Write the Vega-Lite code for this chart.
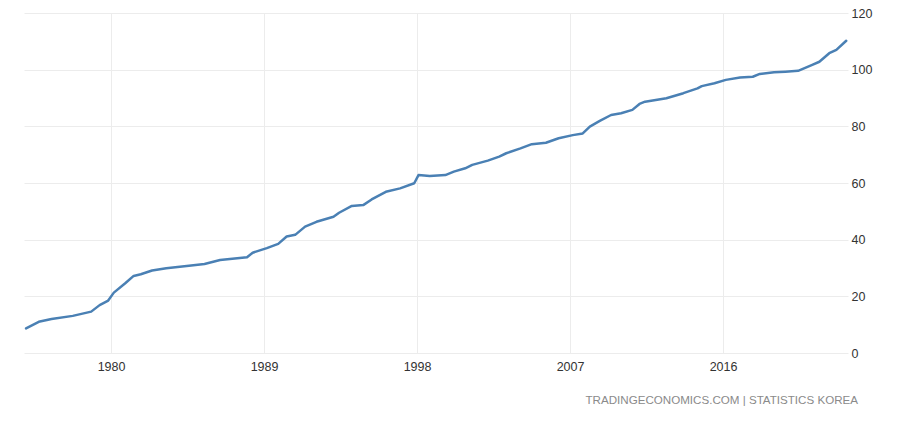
{
  "$schema": "https://vega.github.io/schema/vega-lite/v6.json",
  "width": 824,
  "height": 340,
  "autosize": "none",
  "padding": {"left": 24, "top": 13, "right": 52, "bottom": 68},
  "background": "white",
  "config": {
    "view": {"stroke": null},
    "font": "Liberation Sans"
  },
  "title": {
    "text": "TRADINGECONOMICS.COM | STATISTICS KOREA",
    "orient": "bottom",
    "anchor": "end",
    "frame": "group",
    "fontSize": 11.6,
    "fontWeight": "normal",
    "color": "#8a8a8a",
    "offset": 22,
    "dx": 10
  },
  "data": {
    "values": [
      {"date": "1975-01-01", "value": 8.7},
      {"date": "1975-10-01", "value": 11.0},
      {"date": "1976-07-01", "value": 12.0},
      {"date": "1977-10-01", "value": 13.1},
      {"date": "1978-11-01", "value": 14.6},
      {"date": "1979-05-01", "value": 16.9},
      {"date": "1979-11-01", "value": 18.5},
      {"date": "1980-03-01", "value": 21.3},
      {"date": "1980-11-01", "value": 24.6},
      {"date": "1981-05-01", "value": 27.2},
      {"date": "1981-10-01", "value": 27.8},
      {"date": "1982-06-01", "value": 29.1},
      {"date": "1983-04-01", "value": 29.9},
      {"date": "1984-08-01", "value": 30.8},
      {"date": "1985-07-01", "value": 31.4},
      {"date": "1986-06-01", "value": 32.8},
      {"date": "1988-01-01", "value": 33.8},
      {"date": "1988-05-01", "value": 35.4},
      {"date": "1989-03-01", "value": 37.0},
      {"date": "1989-11-01", "value": 38.5},
      {"date": "1990-05-01", "value": 41.1},
      {"date": "1990-11-01", "value": 41.7},
      {"date": "1991-06-01", "value": 44.6},
      {"date": "1992-02-01", "value": 46.3},
      {"date": "1993-02-01", "value": 48.1},
      {"date": "1993-06-01", "value": 49.5},
      {"date": "1994-03-01", "value": 51.9},
      {"date": "1994-11-01", "value": 52.2},
      {"date": "1995-05-01", "value": 54.2},
      {"date": "1996-03-01", "value": 56.9},
      {"date": "1997-01-01", "value": 58.1},
      {"date": "1997-11-01", "value": 59.9},
      {"date": "1998-02-01", "value": 62.8},
      {"date": "1998-10-01", "value": 62.5},
      {"date": "1999-09-01", "value": 62.8},
      {"date": "2000-03-01", "value": 64.0},
      {"date": "2000-11-01", "value": 65.2},
      {"date": "2001-04-01", "value": 66.4},
      {"date": "2002-03-01", "value": 67.9},
      {"date": "2002-11-01", "value": 69.3},
      {"date": "2003-04-01", "value": 70.5},
      {"date": "2004-02-01", "value": 72.2},
      {"date": "2004-10-01", "value": 73.7},
      {"date": "2005-08-01", "value": 74.2},
      {"date": "2006-05-01", "value": 75.8},
      {"date": "2007-03-01", "value": 76.9},
      {"date": "2007-10-01", "value": 77.5},
      {"date": "2008-03-01", "value": 79.9},
      {"date": "2008-10-01", "value": 81.9},
      {"date": "2009-06-01", "value": 84.0},
      {"date": "2010-01-01", "value": 84.6},
      {"date": "2010-09-01", "value": 85.8},
      {"date": "2011-02-01", "value": 87.9},
      {"date": "2011-06-01", "value": 88.7},
      {"date": "2012-09-01", "value": 89.9},
      {"date": "2013-09-01", "value": 91.7},
      {"date": "2014-07-01", "value": 93.4},
      {"date": "2014-10-01", "value": 94.2},
      {"date": "2015-07-01", "value": 95.2},
      {"date": "2016-03-01", "value": 96.4},
      {"date": "2017-01-01", "value": 97.2},
      {"date": "2017-10-01", "value": 97.5},
      {"date": "2018-03-01", "value": 98.5},
      {"date": "2019-01-01", "value": 99.1},
      {"date": "2019-09-01", "value": 99.3},
      {"date": "2020-06-01", "value": 99.6},
      {"date": "2021-04-01", "value": 101.7},
      {"date": "2021-09-01", "value": 102.8},
      {"date": "2022-04-01", "value": 105.8},
      {"date": "2022-09-01", "value": 107.0},
      {"date": "2023-04-01", "value": 110.2}
    ]
  },
  "mark": {"type": "line", "color": "#4a80b4", "strokeWidth": 2.5, "strokeJoin": "round", "strokeCap": "round"},
  "encoding": {
    "x": {
      "field": "date",
      "type": "temporal",
      "scale": {"domain": [{"year": 1974, "month": 11, "date": 18}, {"year": 2023, "month": 5, "date": 9}]},
      "axis": {
        "title": null,
        "values": [{"year": 1980}, {"year": 1989}, {"year": 1998}, {"year": 2007}, {"year": 2016}],
        "format": "%Y",
        "grid": true,
        "gridColor": "#ececec",
        "gridWidth": 1,
        "domain": false,
        "ticks": false,
        "labelFontSize": 12.5,
        "labelColor": "#333333",
        "labelPadding": 7
      }
    },
    "y": {
      "field": "value",
      "type": "quantitative",
      "scale": {"domain": [0, 120], "nice": false, "zero": true},
      "axis": {
        "title": null,
        "orient": "right",
        "values": [0, 20, 40, 60, 80, 100, 120],
        "grid": true,
        "gridColor": "#ececec",
        "gridWidth": 1,
        "domain": false,
        "ticks": false,
        "labelFontSize": 12.5,
        "labelColor": "#333333",
        "labelPadding": 3
      }
    }
  }
}
